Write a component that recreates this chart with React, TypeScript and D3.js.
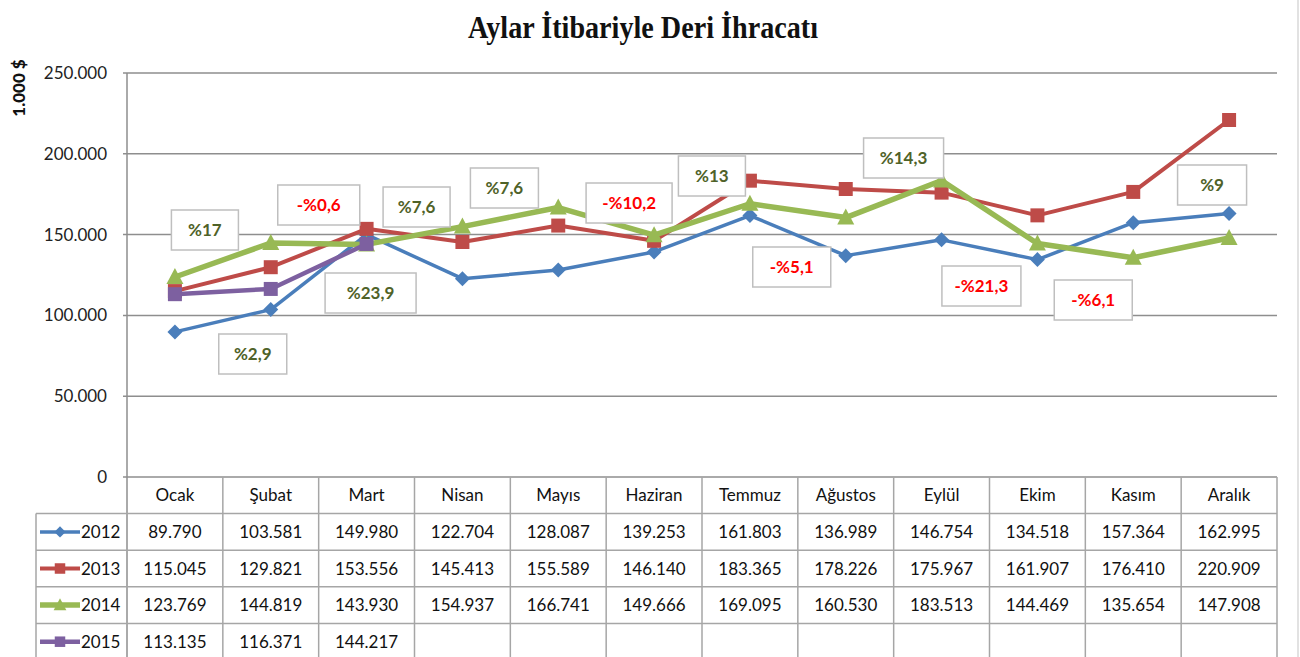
import * as d3 from "d3";

const months = ["Ocak", "Şubat", "Mart", "Nisan", "Mayıs", "Haziran", "Temmuz", "Ağustos", "Eylül", "Ekim", "Kasım", "Aralık"];
const years = ["2012", "2013", "2014", "2015"];
const v2012 = [89790, 103581, 149980, 122704, 128087, 139253, 161803, 136989, 146754, 134518, 157364, 162995];
const v2013 = [115045, 129821, 153556, 145413, 155589, 146140, 183365, 178226, 175967, 161907, 176410, 220909];
const v2014 = [123769, 144819, 143930, 154937, 166741, 149666, 169095, 160530, 183513, 144469, 135654, 147908];
const v2015 = [113135, 116371, 144217];
const yTicks = [0, 50000, 100000, 150000, 200000, 250000];
const changeLabels = ["%17", "%2,9", "-%0,6", "%23,9", "%7,6", "%7,6", "-%10,2", "%13", "-%5,1", "%14,3", "-%21,3", "-%6,1", "%9"];

// box layout for the change labels: month index, x shift from month centre, centre y, width
const labelBoxes = [
  { m: 0, dx: 30, cy: 230, w: 67 },
  { m: 1, dx: -18, cy: 354, w: 68 },
  { m: 1, dx: 48, cy: 205, w: 82 },
  { m: 2, dx: 4, cy: 293, w: 91 },
  { m: 2, dx: 50, cy: 207, w: 67 },
  { m: 3, dx: 42, cy: 188, w: 68 },
  { m: 5, dx: -25, cy: 203, w: 86 },
  { m: 6, dx: -38, cy: 176, w: 67 },
  { m: 7, dx: -54, cy: 267, w: 78 },
  { m: 8, dx: -38, cy: 158, w: 80 },
  { m: 9, dx: -56, cy: 286, w: 79 },
  { m: 10, dx: -40, cy: 300, w: 78 },
  { m: 11, dx: -17, cy: 185, w: 69 },
];

const W = 1300;
const H = 657;
const left = 127;
const right = 1277;
const top = 73;
const bottom = 477;
const font = "Lato, 'Open Sans', sans-serif";
const grid = "#8e8e8e";
const cellLine = "#a6a6a6";

const series = [
  { name: years[0], values: v2012, color: "#4a7ebb", width: 3.5, marker: "diamond" },
  { name: years[1], values: v2013, color: "#be4b48", width: 4, marker: "square" },
  { name: years[2], values: v2014, color: "#98b954", width: 5.5, marker: "triangle" },
  { name: years[3], values: v2015, color: "#7d60a0", width: 4.5, marker: "square" },
];

const fmt = d3.formatLocale({ decimal: ",", thousands: ".", grouping: [3], currency: ["", "$"] }).format(",d");

function markerPath(kind: string, cx: number, cy: number, k = 1) {
  if (kind === "diamond") {
    const r = 7.5 * k;
    return `M${cx},${cy - r}L${cx + r},${cy}L${cx},${cy + r}L${cx - r},${cy}Z`;
  }
  if (kind === "triangle") {
    return `M${cx},${cy - 9 * k}L${cx + 8.5 * k},${cy + 7 * k}L${cx - 8.5 * k},${cy + 7 * k}Z`;
  }
  const s = 7 * k;
  return `M${cx - s},${cy - s}h${2 * s}v${2 * s}h${-2 * s}Z`;
}

export default function App() {
  const x = d3.scaleBand().domain(months).range([left, right]);
  const cx = (m: string) => (x(m) as number) + x.bandwidth() / 2;
  const y = d3.scaleLinear().domain([0, 250000]).range([bottom, top]);
  const rows = d3.scaleBand().domain(["head", ...years]).range([bottom, bottom + 183]);

  const line = d3.line<number>()
    .x((_, i) => cx(months[i]))
    .y(d => y(d));

  const legLeft = 36;

  return (
    <svg width={W} height={H} style={{ position: "absolute", left: 0, top: 0, background: "#fff" }}>
      <text x={643} y={38} textAnchor="middle" fontFamily="'Liberation Serif', serif" fontWeight="bold"
        fontSize={32} textLength={350} lengthAdjust="spacingAndGlyphs" fill="#111">
        Aylar İtibariyle Deri İhracatı
      </text>
      <text transform="translate(25,88) rotate(-90)" textAnchor="middle" fontFamily={font}
        fontWeight="900" fontSize={17} fill="#111">1.000 $</text>

      {yTicks.map(t => (
        <g key={t}>
          <line x1={left - 4} x2={right} y1={y(t)} y2={y(t)} stroke={grid} strokeWidth={1.5} />
          <text x={107} y={y(t) + 6} textAnchor="end" fontFamily={font} fontSize={17} fill="#222">{fmt(t)}</text>
        </g>
      ))}
      <line x1={left} x2={left} y1={top} y2={H} stroke={grid} strokeWidth={1.5} />
      <line x1={1298} x2={1298} y1={0} y2={H} stroke="#d9d9d9" strokeWidth={1.5} />

      {/* data table */}
      {months.map(m => (
        <g key={m}>
          <line x1={(x(m) as number) + x.bandwidth()} x2={(x(m) as number) + x.bandwidth()} y1={bottom} y2={H}
            stroke={cellLine} strokeWidth={1.5} />
          <text x={cx(m)} y={(rows("head") as number) + rows.bandwidth() / 2 + 6} textAnchor="middle"
            fontFamily={font} fontSize={17} fill="#111">{m}</text>
        </g>
      ))}
      <line x1={legLeft} x2={legLeft} y1={rows(years[0]) as number} y2={H} stroke={cellLine} strokeWidth={1.5} />
      {series.map(s => {
        const ry = rows(s.name) as number;
        const mid = ry + rows.bandwidth() / 2;
        return (
          <g key={s.name}>
            <line x1={legLeft} x2={right} y1={ry} y2={ry} stroke={cellLine} strokeWidth={1.5} />
            <line x1={40} x2={80} y1={mid} y2={mid} stroke={s.color} strokeWidth={s.width} />
            <path d={markerPath(s.marker, 60, mid, 0.75)} fill={s.color} />
            <text x={81} y={mid + 6} fontFamily={font} fontSize={17} fill="#111">{s.name}</text>
            {s.values.map((v, i) => (
              <text key={i} x={cx(months[i])} y={mid + 6} textAnchor="middle" fontFamily={font} fontSize={17} fill="#111">
                {fmt(v)}
              </text>
            ))}
          </g>
        );
      })}

      {/* series */}
      {series.map(s => (
        <g key={s.name}>
          <path d={line(s.values) as string} fill="none" stroke={s.color} strokeWidth={s.width} strokeLinejoin="round" />
          {s.values.map((v, i) => (
            <path key={i} d={markerPath(s.marker, cx(months[i]), y(v))} fill={s.color} />
          ))}
        </g>
      ))}

      {/* change labels */}
      {labelBoxes.map((b, i) => {
        const bx = cx(months[b.m]) + b.dx;
        const txt = changeLabels[i];
        const neg = txt.startsWith("-");
        return (
          <g key={i}>
            <rect x={bx - b.w / 2} y={b.cy - 20} width={b.w} height={40} fill="#fff" stroke="#bfbfbf" strokeWidth={1.5} />
            <text x={bx} y={b.cy + 6} textAnchor="middle" fontFamily={font} fontWeight="bold"
              fontSize={17} fill={neg ? "#ff0000" : "#4f6228"}>{txt}</text>
          </g>
        );
      })}
    </svg>
  );
}
